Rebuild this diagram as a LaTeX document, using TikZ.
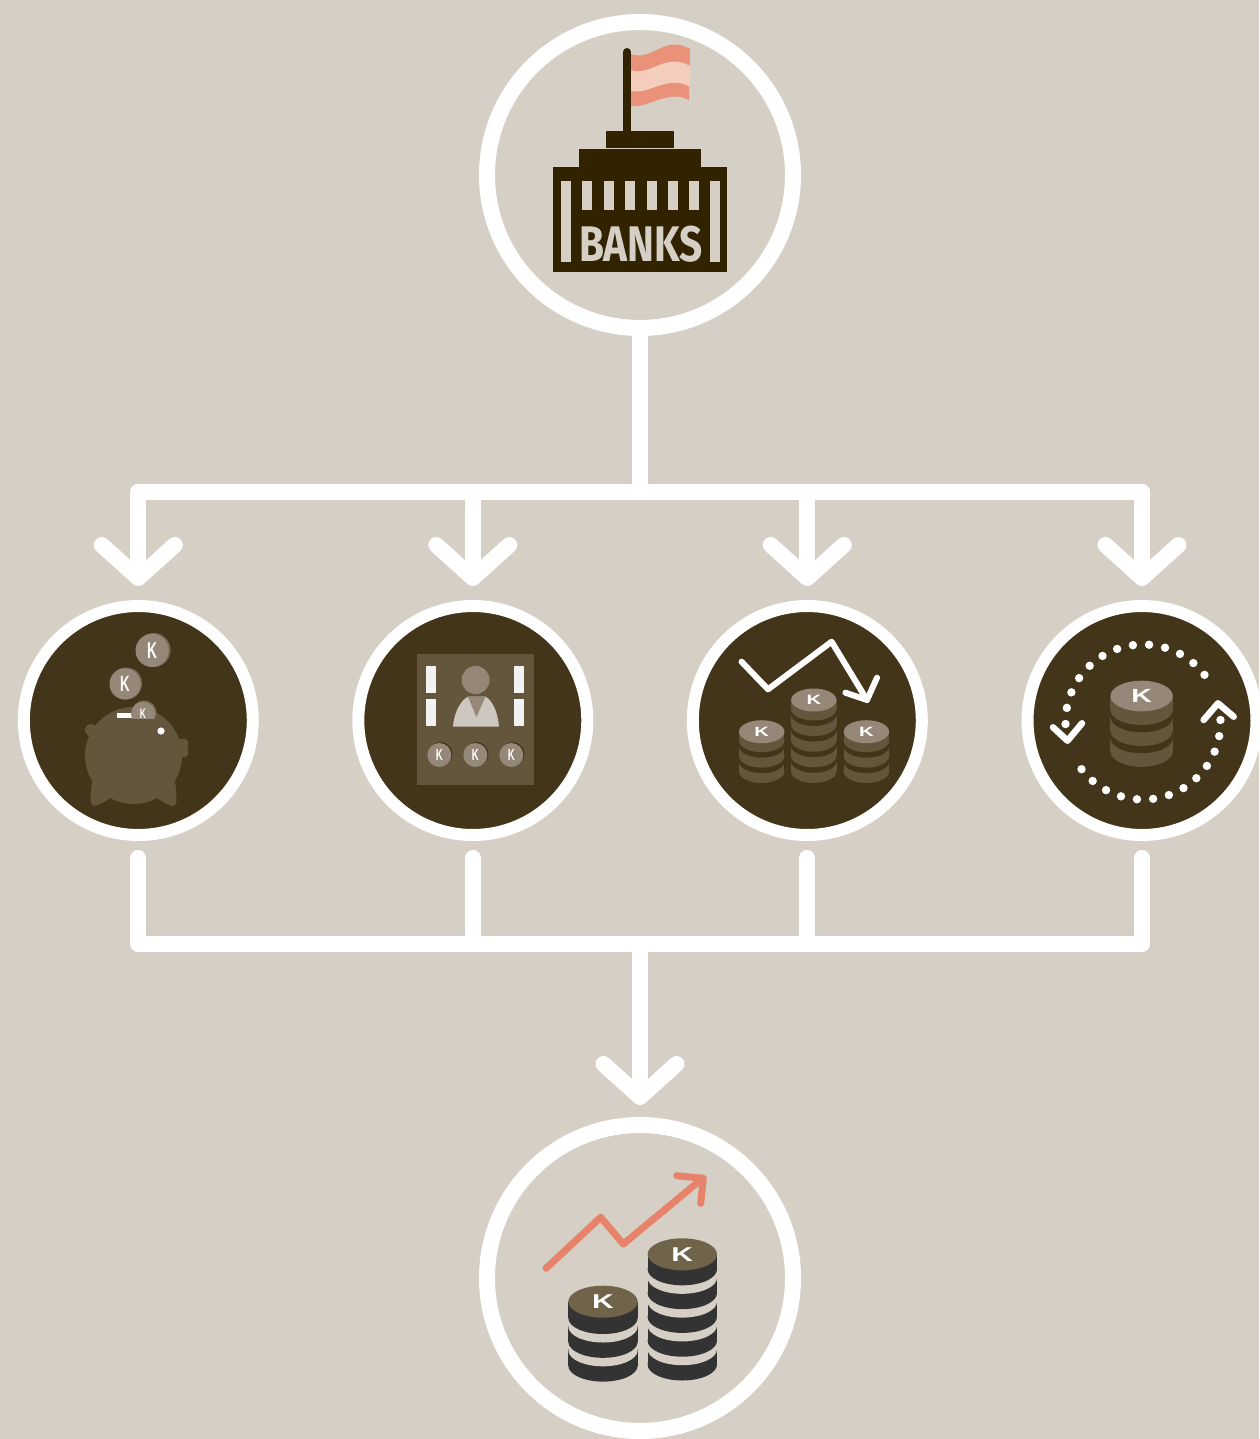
\documentclass[tikz,border=0pt]{standalone}
\usepackage{fontspec}
\setmainfont{Liberation Sans}
\newfontfamily\tallfont[FakeStretch=0.6]{Liberation Sans}
\newfontfamily\widefont[FakeStretch=1.5]{Liberation Sans}
\newfontfamily\signfont[FakeStretch=0.81]{Fira Sans}
\usetikzlibrary{arrows.meta,shapes.geometric}
\definecolor{pagebg}{HTML}{D5CFC5}
\definecolor{darkfill}{HTML}{433519}
\definecolor{buildingcol}{HTML}{312300}
\definecolor{iconmid}{HTML}{63563D}
\definecolor{coinface}{HTML}{958878}
\definecolor{coinedge}{HTML}{7A6E5B}
\definecolor{flagdark}{HTML}{EA9179}
\definecolor{flaglight}{HTML}{F5CDBC}
\definecolor{riseline}{HTML}{E6836A}
\definecolor{stackdark}{HTML}{333333}
\definecolor{stackface}{HTML}{6F6349}
\definecolor{torsocol}{HTML}{CEC7BF}
\tikzset{
	bigcircle/.style={circle,draw=white,line width=16pt,minimum size=306pt,inner sep=0pt},
	stepcircle/.style={circle,draw=white,fill=darkfill,line width=12pt,minimum size=229pt,inner sep=0pt},
	busline/.style={draw=white,line width=16pt,line cap=round,line join=round},
	busarrow/.style={busline,-{Straight Barb[round,length=33pt,width=73pt,line width=16pt]},shorten >=12pt},
	iconline/.style={draw=white,line cap=round,line join=round},
	coin/.style={circle,fill=coinface,text=white,inner sep=0pt},
}
% name, x, y of the top face, discs, x radius, y radius, disc height, step, gap
\newcommand{\coinstack}[9]{
	\foreach \k in {1,...,#4}{
		\pgfmathsetmacro{\discy}{#3+(#4-\k)*#8}
		\ifnum\k>1
			\fill[gapfill] (#2,\discy+#7+#9) ellipse [x radius=#5pt,y radius=#6pt];
		\fi
		\fill[discfill] (#2-#5,\discy) rectangle (#2+#5,\discy+#7);
		\fill[discfill] (#2,\discy+#7) ellipse [x radius=#5pt,y radius=#6pt];
	}
	\node[ellipse,facefill,minimum width=#5*2pt,minimum height=#6*2pt,inner sep=0pt,text=white,stackletter] (#1) at (#2,#3) {K};
}
\begin{document}
\begin{tikzpicture}[x=1pt,y=-1pt]
	\fill[pagebg] (0,0) rectangle (1259,1439);
	\useasboundingbox (0,0) rectangle (1259,1439);

	\node[bigcircle] (bank) at (640,175) {};
	\node[stepcircle] (piggy) at (138.3,720.5) {};
	\node[stepcircle] (staff) at (472.8,720.5) {};
	\node[stepcircle] (falling) at (807.3,720.5) {};
	\node[stepcircle] (cycle) at (1142,720.5) {};
	\node[bigcircle] (result) at (640,1278) {};

	\coordinate (topjoin) at (640,492);
	\coordinate (lowjoin) at (640,944);

	% upper connectors
	\draw[busline] (bank) -- (topjoin);
	\draw[busline] (piggy |- topjoin) -- (cycle |- topjoin);
	\foreach \target in {piggy,staff,falling,cycle}
		\draw[busarrow,shorten >=14pt] (\target |- topjoin) -- (\target);

	% lower connectors
	\draw[busline,shorten <=17pt,shorten >=17pt] (piggy) -- (piggy |- lowjoin) -- (cycle |- lowjoin) -- (cycle);
	\draw[busline,shorten <=17pt] (staff) -- (staff |- lowjoin);
	\draw[busline,shorten <=17pt] (falling) -- (falling |- lowjoin);
	\draw[busarrow] (lowjoin) -- (result);

	% bank
	\fill[flagdark] (631,54) .. controls (652,62) and (665,34) .. (690,49) -- (689,100) .. controls (668,89) and (650,108) .. (631,106) -- cycle;
	\fill[flaglight] (631,70.5) .. controls (652,76) and (665,52) .. (690,66) -- (690,87) .. controls (668,74) and (650,95) .. (631,91) -- cycle;
	\draw[buildingcol,line width=8pt,line cap=round] (627,52) -- (627,135);
	\fill[buildingcol] (606,131) rectangle (674,148);
	\fill[buildingcol] (579,149) rectangle (701,168);
	\fill[buildingcol] (553,167) rectangle (727,272);
	\fill[pagebg] (561,181) rectangle (571,262);
	\fill[pagebg] (710,181) rectangle (720,262);
	\foreach \k in {0,...,5}
		\fill[pagebg] ({582.3+21.4*\k},181) rectangle ++(10,29);
	\node[text=pagebg,font={\signfont\bfseries\fontsize{50}{52}\selectfont},inner sep=0pt] (banksign) at (641,244.5) {BANKS};

	% piggy bank
	\fill[iconmid] (133.5,755.5) circle (48.5pt);
	\fill[iconmid] (91,730) circle (6pt);
	\fill[iconmid,rounded corners=3pt] (176,739) rectangle (188,757);
	\fill[iconmid,rounded corners=6pt] (92,778) -- (90,806) -- (97,806) -- (114,796) -- cycle;
	\fill[iconmid,rounded corners=6pt] (175,778) -- (177,806) -- (170,806) -- (153,796) -- cycle;
	\fill[white] (161,731) circle (3.6pt);
	\fill[white] (117,713) rectangle (132,718);
	\begin{scope}
		\clip (125,695) rectangle (165,718);
		\fill[coinedge] (144,713) circle (12.5pt);
		\node[coin,minimum size=24pt,font={\tallfont\bfseries\fontsize{14}{14}\selectfont}] (coinslot) at (143,714) {K};
	\end{scope}
	\fill[coinedge] (153.5,650) circle (17pt);
	\node[coin,minimum size=33pt,font={\tallfont\bfseries\fontsize{23}{23}\selectfont}] (cointop) at (152,650.5) {K};
	\fill[coinedge] (126,683.5) circle (16pt);
	\node[coin,minimum size=31pt,font={\tallfont\bfseries\fontsize{22}{22}\selectfont}] (coinmid) at (125,684) {K};

	% staff panel
	\fill[iconmid] (417,654) rectangle (534,785);
	\foreach \barx in {426,514}{
		\fill[white!95!black] (\barx,666) rectangle ++(10,27);
		\fill[white!95!black] (\barx,699) rectangle ++(10,27);
	}
	\fill[coinface] (475.6,680) circle (14pt);
	\fill[torsocol] (453,726.7) .. controls (454,712) and (461,700) .. (468,696.7) -- (485.5,696.7) .. controls (492,700) and (498,712) .. (499,726.7) -- cycle;
	\fill[coinface] (468,696.7) -- (485.5,696.7) -- (476.4,717) -- cycle;
	\foreach \coinx/\coinname in {439.3/paya,475.3/payb,511.3/payc}{
		\fill[darkfill] (\coinx+1.2,754) circle (12pt);
		\node[coin,minimum size=24pt,font={\tallfont\bfseries\fontsize{16}{16}\selectfont}] (\coinname) at (\coinx,755) {K};
	}

	% falling stacks
	\begin{scope}[discfill/.style={fill=iconmid},gapfill/.style={fill=darkfill},facefill/.style={fill=coinface},
		stackletter/.style={font={\widefont\bfseries\fontsize{13.5}{13.5}\selectfont}}]
		\coinstack{stackone}{761.7}{731.7}{3}{22.7}{11.5}{9}{15.4}{5.5}
		\coinstack{stacktwo}{813.8}{700}{5}{22.7}{11.5}{9}{15.6}{5.5}
		\coinstack{stackthree}{866.4}{731.7}{3}{22.7}{11.5}{9}{15.4}{5.5}
	\end{scope}
	\draw[iconline,line width=6pt] (741.5,661.7) -- (768,689.3) -- (831.6,641.7) -- (867,700);
	\draw[iconline,line width=6pt] (845.4,692.7) -- (867,700) -- (877,677.7);

	% turnover cycle
	\begin{scope}[discfill/.style={fill=iconmid},gapfill/.style={fill=darkfill},facefill/.style={fill=coinface},
		stackletter/.style={font={\widefont\bfseries\fontsize{19}{19}\selectfont}}]
		\coinstack{stackround}{1141.6}{696}{3}{31.2}{15.3}{13.7}{20.9}{7.3}
	\end{scope}
	\foreach \k in {0,...,12}{
		\fill[white] ({1143+77.5*cos(178.5+12*\k)},{722+77.5*sin(178.5+12*\k)}) circle (4.2pt);
		\fill[white] ({1143+77.5*cos(-1.5+12*\k)},{722+77.5*sin(-1.5+12*\k)}) circle (4.2pt);
	}
	\draw[iconline,line width=6.5pt] (1053,727.3) -- (1067.5,740.7) -- (1082,723.3);
	\draw[iconline,line width=6.5pt] (1203.6,720) -- (1218,703.3) -- (1233.7,716.7);

	% rising stacks
	\begin{scope}[discfill/.style={fill=stackdark},gapfill/.style={fill=pagebg},facefill/.style={fill=stackface},
		stackletter/.style={font={\widefont\bfseries\fontsize{20}{20}\selectfont}}]
		\coinstack{stackleft}{603}{1301.7}{3}{34.7}{16}{16.3}{23.8}{8.5}
		\coinstack{stackright}{682.3}{1254.3}{5}{34.7}{16}{15}{23.8}{8.5}
	\end{scope}
	\draw[riseline,line width=7pt,line cap=round,line join=round] (546,1268.3) -- (600.7,1217.3) -- (623.3,1244) -- (701.7,1179);
	\draw[riseline,line width=7pt,line cap=round,line join=round] (676.7,1175.7) -- (703.3,1178.3) -- (700.7,1203.3);
\end{tikzpicture}
\end{document}
